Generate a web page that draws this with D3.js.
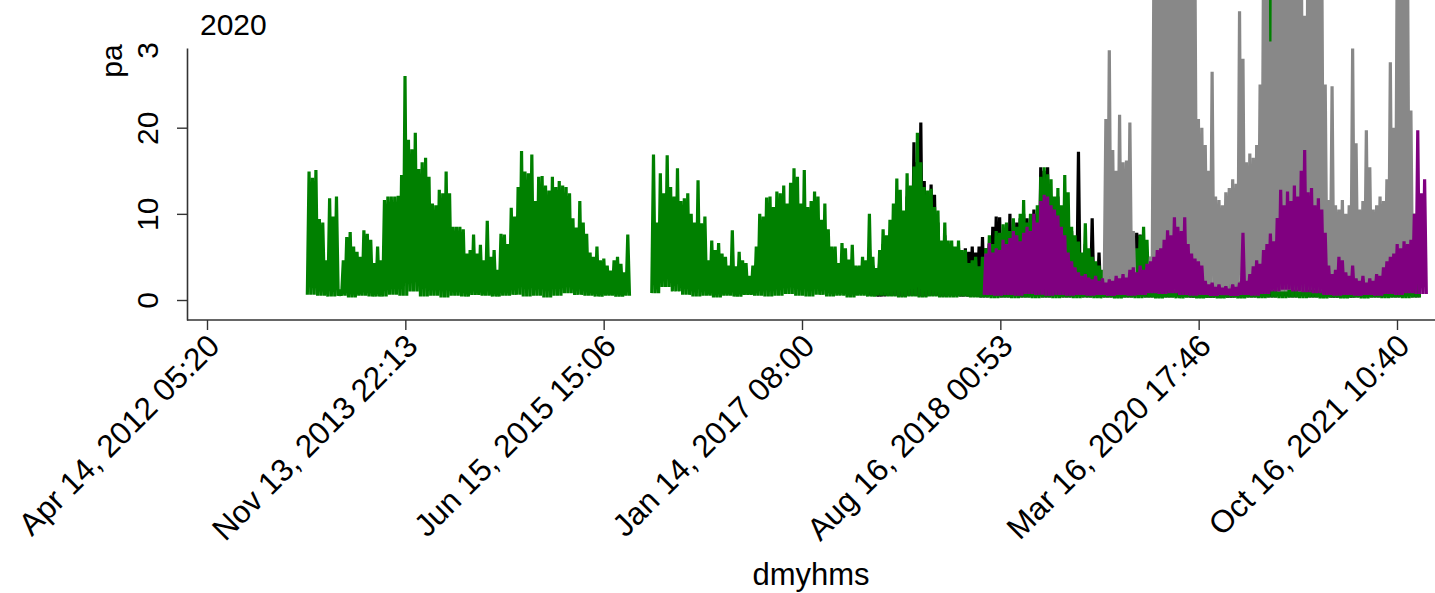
<!DOCTYPE html>
<html>
<head>
<meta charset="utf-8">
<script src="https://cdn.jsdelivr.net/npm/d3@7"></script>
<style>
  body { margin: 0; background: #fff; }
  svg { display: block; }
  text { font-family: "Liberation Sans", Arial, sans-serif; fill: #000; }
</style>
</head>
<body>
<svg id="chart" width="1435" height="593"></svg>
<script>
// ---- axis ticks ----
const xTickDates = ["2012-04-14T05:20", "2013-11-13T22:13", "2015-06-15T15:06", "2017-01-14T08:00",
                    "2018-08-16T00:53", "2020-03-16T17:46", "2021-10-16T10:40"];
const yTickValues = [0, 10, 20, 30];

// ---- series: each value is the 10-day peak; floors are one per 30 days ----
const periodDays = 10;

const green1Start = "2013-02-01";
const green1Hi = [
  14.9, 14.2, 15.1, 9.4, 9.0, 4.6, 11.8, 9.7, 12.0, 1.2,
  4.6, 7.3, 7.9, 6.2, 5.6, 5.0, 8.1, 7.7, 7.0, 4.3,
  6.2, 4.6, 11.6, 12.0, 12.0, 12.0, 12.1, 14.5, 26.0, 18.6,
  17.5, 19.4, 15.2, 16.0, 16.5, 14.3, 11.2, 11.0, 12.8, 12.4,
  14.9, 12.4, 8.5, 8.5, 8.5, 8.2, 5.4, 5.8, 7.6, 5.4,
  6.4, 4.6, 9.2, 5.0, 5.8, 3.5, 7.7, 7.6, 6.5, 10.7,
  9.7, 13.1, 17.3, 14.9, 14.7, 16.9, 11.5, 14.3, 14.4, 13.3,
  12.7, 14.3, 13.1, 13.8, 13.3, 13.1, 12.4, 9.5, 8.4, 11.5,
  9.0, 7.7, 5.5, 5.0, 6.2, 4.6, 4.8, 4.0, 3.4, 4.6,
  5.0, 4.2, 3.2, 7.6
];
const green1Lo = [
  0.6, 0.5, 0.4, 0.5, 0.3, 0.5, 0.4, 0.4, 0.6, 0.5,
  1.0, 0.4, 0.5, 0.3, 0.5, 0.4, 0.6, 0.5, 0.4, 0.5,
  0.6, 0.4, 0.5, 0.3, 0.5, 0.8, 0.6, 0.5, 0.4, 0.5,
  0.4, 0.5
];

const green2Start = "2015-11-03";
const green2Hi = [
  16.9, 9.0, 14.7, 12.4, 16.8, 13.1, 12.0, 15.3, 11.5, 11.8,
  12.4, 10.0, 9.0, 13.9, 8.9, 9.7, 4.6, 6.9, 5.8, 6.6,
  5.4, 5.0, 4.0, 8.1, 3.9, 5.6, 4.6, 4.3, 2.8, 4.0,
  6.2, 10.0, 9.7, 11.9, 12.0, 10.8, 12.6, 12.4, 13.3, 11.2,
  13.6, 15.3, 14.3, 11.2, 15.1, 10.8, 11.5, 12.6, 12.0, 9.3,
  11.2, 8.2, 6.2, 6.2, 4.3, 6.6, 6.0, 4.7, 6.4, 4.0,
  4.0, 5.0, 4.6, 10.0, 5.0, 3.7, 5.8, 8.2, 7.5, 9.3,
  11.2, 14.1, 12.8, 10.4, 14.7, 13.3, 15.5, 19.4, 16.0, 13.1,
  12.7, 12.9, 10.8, 10.4, 6.9, 9.0, 6.9, 6.9, 6.2, 6.9,
  5.8, 5.8, 4.3, 4.6, 5.0, 3.9, 5.0, 6.0, 7.5, 6.5,
  8.0, 7.8, 8.8, 9.0, 8.0, 9.5, 8.5, 10.0, 11.6, 9.0,
  10.0, 9.2, 11.0, 14.3, 15.4, 14.6, 14.0, 12.0, 13.0, 11.0,
  14.5, 12.5, 8.5, 7.5, 6.8, 5.5, 8.9, 6.0, 5.0, 4.5,
  4.0, 3.5, 3.0, 2.8, 3.2, 2.5, 3.0, 2.6, 3.0, 3.5,
  4.5, 6.0, 7.5, 8.5, 7.0, 5.0, 3.0, 2.5, 3.0, 2.8,
  3.2, 4.0, 3.0, 13.0, 3.5, 3.0, 2.5, 2.0, 2.2, 1.8,
  2.0, 1.5, 1.8, 1.6, 2.0, 1.5, 1.8, 2.2, 2.0, 2.5,
  2.8, 2.2, 3.0, 3.5, 3.2, 4.0, 4.5, 4.0, 5.0, 5.5,
  45.0, 6.0, 8.0, 9.0, 10.0, 9.5, 11.0, 12.0, 10.0, 11.0,
  10.0, 9.0, 8.0, 6.0, 3.0, 2.5, 3.0, 2.8, 3.5, 2.5,
  2.2, 2.5, 2.0, 2.4, 2.0, 2.6, 2.4, 3.0, 3.2, 3.5,
  4.0, 4.5, 4.8, 5.0, 5.5, 5.0, 5.8, 6.0, 6.5, 7.0,
  8.0, 9.0, 10.0, 6.0
];
const green2Lo = [
  0.8, 1.5, 1.0, 0.6, 0.4, 0.5, 0.3, 0.5, 0.4, 0.6,
  0.5, 0.4, 0.5, 0.7, 0.5, 0.4, 0.6, 0.4, 0.5, 0.3,
  0.5, 0.4, 0.5, 0.4, 0.3, 0.4, 0.3, 0.4, 0.3, 0.3,
  0.4, 0.3, 0.3, 0.2, 0.3, 0.2, 0.3, 0.2, 0.3, 0.2,
  0.3, 0.2, 0.3, 0.2, 0.3, 0.2, 0.3, 0.2, 0.3, 0.2,
  0.3, 0.2, 0.3, 0.2, 0.3, 0.2, 0.3, 0.2, 0.3, 0.2,
  0.3, 0.2, 0.3, 0.2, 0.3, 0.2, 0.3, 0.2, 0.3, 0.2,
  0.3, 0.2, 0.3, 0.2, 0.3
];

const blackStart = "2017-07-25";
const blackHi = [
  6.0, 4.0, 3.0, 4.5, 6.5, 6.0, 7.5, 9.0, 11.0, 10.0,
  9.0, 12.0, 12.0, 18.3, 16.0, 20.6, 13.8, 12.0, 13.4, 12.2,
  9.0, 6.0, 7.5, 6.0, 6.2, 5.5, 6.0, 5.5, 6.0, 5.6,
  6.2, 5.5, 6.2, 7.3, 6.0, 6.5, 8.5, 9.7, 9.6, 7.0,
  8.0, 10.0, 8.0, 9.0, 9.5, 10.0, 9.5, 8.0, 10.5, 10.0,
  15.4, 15.0, 15.4, 12.0, 11.0, 12.0, 10.0, 12.0, 9.0, 8.0,
  7.0, 17.2, 5.0, 6.5, 5.5, 9.5, 4.0, 5.5, 3.0, 2.5,
  2.0, 3.0, 2.5, 2.0, 2.8, 3.0, 4.0, 5.0, 7.8, 7.6,
  6.5, 5.0, 3.5, 2.5, 2.0, 2.5, 3.0, 2.2, 2.5, 3.0,
  2.8, 2.5, 2.0, 2.2, 1.8, 1.5, 1.6, 1.4, 1.5, 1.2,
  1.4, 1.3, 1.5, 1.2, 1.6, 1.4, 1.8, 2.0, 2.2, 2.5,
  3.0, 2.8, 3.2, 3.5, 3.0, 4.0, 4.5, 5.0, 6.0, 7.0,
  8.0, 8.5, 9.0, 9.5, 10.0, 9.0, 8.0, 7.0, 6.0, 4.0,
  2.5, 2.0, 1.8, 2.2, 2.0, 1.8, 1.6, 1.5, 1.8, 1.6,
  1.5, 1.8, 2.0, 2.2, 2.5, 2.8, 3.0, 3.2, 3.5, 3.8,
  4.0, 4.2, 4.5, 4.8, 5.0, 5.2, 5.5, 5.8, 6.0, 6.5,
  6.0
];
const blackLo = [
  0.5, 0.4, 0.5, 0.4, 0.5, 0.4, 0.5, 0.4, 0.5, 0.4,
  0.4, 0.3, 0.4, 0.3, 0.4, 0.3, 0.4, 0.3, 0.4, 0.3,
  0.4, 0.3, 0.4, 0.3, 0.4, 0.3, 0.4, 0.3, 0.4, 0.3,
  0.4, 0.3, 0.4, 0.3, 0.4, 0.3, 0.4, 0.3, 0.4, 0.3,
  0.4, 0.3, 0.4, 0.3, 0.4, 0.3, 0.4, 0.3, 0.4, 0.3,
  0.4, 0.3, 0.4, 0.3
];

const purpleStart = "2018-06-30";
const purpleHi = [
  5.4, 6.6, 5.5, 6.0, 5.8, 7.0, 6.5, 7.2, 8.0, 7.5,
  6.8, 7.8, 8.5, 8.0, 10.0, 9.0, 11.5, 12.2, 12.0, 11.0,
  10.5, 9.8, 8.5, 7.5, 5.5, 4.5, 3.8, 3.2, 2.8, 3.0,
  2.6, 2.4, 2.8, 2.2, 2.5, 2.0, 2.4, 2.2, 2.8, 2.5,
  3.0, 2.6, 3.5, 3.8, 3.2, 4.0, 3.5, 4.2, 4.5, 5.0,
  5.8, 6.0, 7.0, 8.1, 7.5, 9.6, 8.5, 8.0, 9.6, 6.5,
  5.4, 4.8, 4.5, 4.0, 2.2, 1.8, 2.0, 1.5, 1.8, 1.4,
  1.6, 1.3, 1.8, 1.5, 2.0, 7.8, 2.2, 3.0, 3.9, 4.6,
  4.2, 5.8, 6.5, 7.7, 6.8, 9.5, 12.8, 11.0, 12.6, 11.5,
  13.3, 12.0, 15.0, 17.4, 12.5, 13.0, 11.0, 11.8, 10.5, 7.8,
  4.0, 3.0, 3.5, 5.0, 4.6, 3.2, 2.8, 4.0, 2.5, 2.2,
  2.8, 2.0, 2.5, 2.2, 3.0, 2.8, 3.8, 4.5, 5.0, 5.4,
  6.5, 6.0, 6.8, 6.5, 7.0, 10.0, 19.7, 12.4, 14.0
];
const purpleLo = [
  0.6, 0.5, 0.6, 0.5, 0.7, 0.6, 0.5, 0.6, 0.5, 0.6,
  0.5, 0.6, 0.5, 0.6, 0.5, 0.6, 0.8, 0.7, 0.8, 0.6,
  0.5, 0.6, 0.5, 0.6, 0.5, 0.6, 0.5, 0.7, 1.0, 1.2,
  1.0, 0.9, 0.8, 0.6, 0.5, 0.6, 0.5, 0.6, 0.5, 0.7,
  0.6, 0.8, 0.7
];

const grayStart = "2019-06-15";
const grayHi = [
  21.0, 29.0, 17.4, 15.0, 21.5, 16.0, 16.2, 20.6, 8.0, 3.0,
  2.5, 3.0, 3.5, 5.0, 38.0, 45.0, 50.0, 47.0, 52.0, 44.0,
  48.0, 46.0, 50.0, 42.0, 45.0, 40.0, 38.0, 21.0, 20.0, 18.0,
  15.0, 26.5, 12.0, 11.6, 11.0, 12.5, 13.0, 14.0, 13.5, 33.5,
  28.0, 16.0, 17.0, 16.5, 18.0, 25.0, 40.0, 45.0, 30.0, 50.0,
  45.0, 48.0, 42.0, 50.0, 40.0, 46.0, 38.0, 45.0, 33.0, 50.0,
  42.0, 36.0, 48.0, 40.0, 25.0, 11.6, 24.8, 11.0, 10.5, 11.6,
  10.0, 11.0, 29.2, 18.2, 10.5, 11.5, 19.7, 15.4, 10.5, 11.0,
  12.0, 11.5, 14.0, 27.6, 20.0, 40.0, 50.0, 45.0, 42.0, 22.0
];
const grayLo = [
  1.2, 1.0, 1.2, 1.0, 1.2, 1.0, 1.2, 1.0, 1.2, 1.0,
  1.2, 1.0, 1.2, 1.0, 1.2, 1.0, 1.2, 1.0, 1.2, 1.0,
  1.2, 1.0, 1.2, 1.0, 1.2, 1.0, 1.2, 1.0, 1.2, 1.0
];

// ---- layout ----
const width = 1435, height = 593;
const plot = { left: 187, right: 1435, top: 48, bottom: 320 };

const svg = d3.select("#chart");
const parseTick = d3.utcParse("%Y-%m-%dT%H:%M");
const parseDay = d3.utcParse("%Y-%m-%d");
const tickDates = xTickDates.map(parseTick);

const x = d3.scaleUtc()
  .domain([tickDates[0], tickDates[tickDates.length - 1]])
  .range([207, 1397]);

const y = d3.scaleLinear()
  .domain([-2.32, 29.25])
  .range([plot.bottom, plot.top]);

// each period contributes its floor followed by its peak, so the dense record reads as a filled band
function band(start, hi, lo) {
  const t0 = parseDay(start);
  const pts = [];
  hi.forEach((h, i) => {
    pts.push([d3.utcHour.offset(t0, i * periodDays * 24), lo[Math.floor(i / 3)]]);
    pts.push([d3.utcHour.offset(t0, (i * periodDays + periodDays / 2) * 24), h]);
  });
  pts.push([d3.utcHour.offset(t0, hi.length * periodDays * 24), lo[lo.length - 1]]);
  return pts;
}

const line = d3.line().x(d => x(d[0])).y(d => y(d[1]));

const series = [
  { pts: band(blackStart, blackHi, blackLo), color: "#000000" },
  { pts: band(green1Start, green1Hi, green1Lo), color: "#008000" },
  { pts: band(green2Start, green2Hi, green2Lo), color: "#008000" },
  { pts: band(grayStart, grayHi, grayLo), color: "#888888" },
  { pts: band(purpleStart, purpleHi, purpleLo), color: "#800080" }
];

svg.append("g").selectAll("path")
  .data(series)
  .join("path")
  .attr("d", d => line(d.pts))
  .attr("fill", "none")
  .attr("stroke", d => d.color)
  .attr("stroke-width", 3.2)
  .attr("stroke-linejoin", "bevel");

// ---- y axis ----
// the axis group is shifted to plot.left, so the clip box is given in its own coordinates
svg.append("clipPath").attr("id", "yclip")
  .append("rect")
  .attr("x", -plot.left).attr("y", 43)
  .attr("width", plot.left + 5).attr("height", height - 43);

const yAxis = svg.append("g")
  .attr("transform", `translate(${plot.left},0)`)
  .attr("clip-path", "url(#yclip)")
  .call(d3.axisLeft(y).tickValues(yTickValues).tickSize(10).tickSizeOuter(0));

yAxis.select(".domain").attr("stroke", "#333").attr("stroke-width", 1.6);
yAxis.selectAll(".tick line").attr("stroke", "#333").attr("stroke-width", 1.4);
yAxis.selectAll(".tick text")
  .attr("transform", "rotate(-90)")
  .attr("x", 0).attr("y", -29).attr("dy", 0)
  .attr("text-anchor", "middle")
  .style("font-size", "30px");

// ---- x axis ----
const xAxis = svg.append("g")
  .attr("transform", `translate(0,${plot.bottom})`)
  .call(d3.axisBottom(x).tickValues(tickDates).tickSize(10).tickFormat(d3.utcFormat("%b %d, %Y %H:%M")));

xAxis.select(".domain").remove();
xAxis.append("line")
  .attr("x1", plot.left).attr("x2", plot.right)
  .attr("y1", 0).attr("y2", 0)
  .attr("stroke", "#333").attr("stroke-width", 1.6);
xAxis.selectAll(".tick line").attr("stroke", "#333").attr("stroke-width", 1.4);
xAxis.selectAll(".tick text")
  .attr("transform", "translate(6,20) rotate(-45)")
  .attr("x", 0).attr("y", 0).attr("dy", "0.35em")
  .attr("text-anchor", "end")
  .style("font-size", "31.5px");

// ---- titles ----
svg.append("text")
  .attr("x", (plot.left + plot.right) / 2).attr("y", 585)
  .attr("text-anchor", "middle")
  .style("font-size", "31px")
  .text("dmyhms");

svg.append("text")
  .attr("transform", "translate(122,61) rotate(-90)")
  .attr("text-anchor", "middle")
  .style("font-size", "30px")
  .text("pa");

svg.append("text")
  .attr("x", 200).attr("y", 35)
  .style("font-size", "30px")
  .text("2020");
</script>
</body>
</html>
